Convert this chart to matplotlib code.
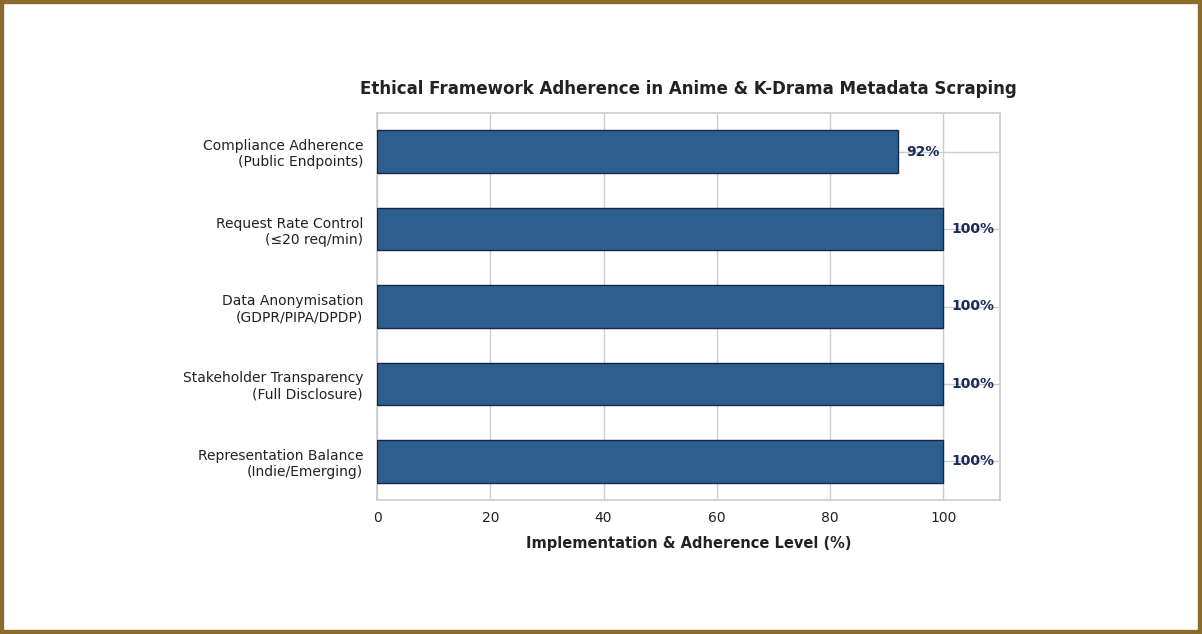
import matplotlib
matplotlib.use("Agg")
import matplotlib.pyplot as plt
from matplotlib.patches import Rectangle

categories = ["Compliance Adherence\n(Public Endpoints)",
              "Request Rate Control\n(≤20 req/min)",
              "Data Anonymisation\n(GDPR/PIPA/DPDP)",
              "Stakeholder Transparency\n(Full Disclosure)",
              "Representation Balance\n(Indie/Emerging)"]
values = [92, 100, 100, 100, 100]

fig = plt.figure(figsize=(12.02, 6.34), dpi=100)
ax = fig.add_axes([377/1202, 1-500/634, 623/1202, 387/634])
y = list(range(len(categories)))[::-1]
ax.barh(y, values, height=0.55, color="#2E5E8E", edgecolor="#14284d", linewidth=1, zorder=3)
for yi, v in zip(y, values):
    ax.text(v + 1.5, yi, f"{v}%", va="center", ha="left", fontsize=10,
            fontweight="bold", color="#1a2a5a", zorder=4)
ax.set_yticks(y)
ax.set_yticklabels(categories, fontsize=10, color="#222222")
ax.set_xlim(0, 110)
ax.set_ylim(-0.5, 4.5)
ax.set_xticks([0, 20, 40, 60, 80, 100])
ax.tick_params(axis="x", labelsize=10, colors="#222222", length=0, pad=8)
ax.tick_params(axis="y", length=0, pad=10)
ax.grid(True, color="#cccccc", linewidth=1, zorder=0)
for s in ax.spines.values():
    s.set_color("#cccccc")
    s.set_linewidth(1.2)
ax.set_xlabel("Implementation & Adherence Level (%)", fontsize=10.5,
              fontweight="bold", color="#222222", labelpad=8)
ax.set_title("Ethical Framework Adherence in Anime & K-Drama Metadata Scraping",
             fontsize=12, fontweight="bold", color="#222222", pad=14)
fig.patches.append(Rectangle((0, 0), 1, 1, transform=fig.transFigure,
                             fill=False, edgecolor="#8B6A2E", linewidth=6))
fig.savefig("out.png", dpi=100)
